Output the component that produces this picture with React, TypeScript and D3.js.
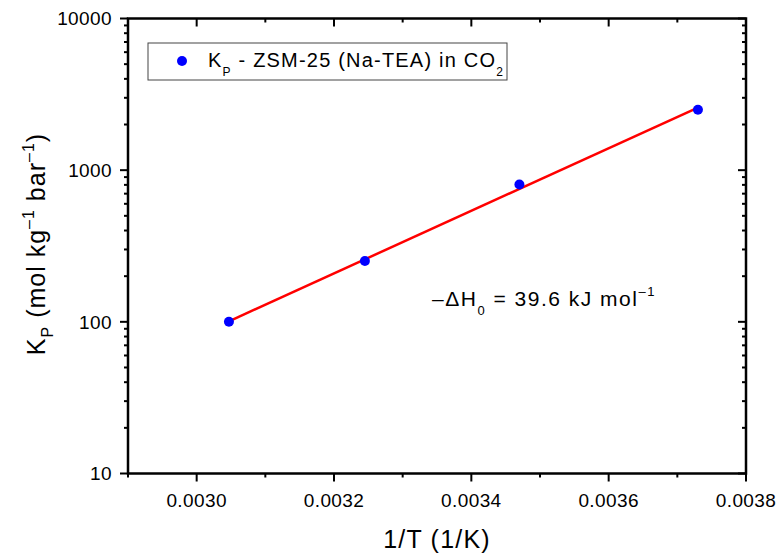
import React from "react";
import * as d3 from "d3";

const invT = [0.003047, 0.003245, 0.00347, 0.00373];
const kp = [100, 252, 805, 2500];
const xTicks = [0.003, 0.0032, 0.0034, 0.0036, 0.0038];
const xMinor = [0.0029, 0.0031, 0.0033, 0.0035, 0.0037];
const yTicks = [10, 100, 1000, 10000];
const legendLabel = "K";
const xTitle = "1/T (1/K)";

const W = 777, H = 560;
const M = { l: 128, r: 746, t: 18.5, b: 473.5 };

export default function App() {
  const x = d3.scaleLinear().domain([0.0029, 0.0038]).range([M.l, M.r]);
  const y = d3.scaleLog().domain([10, 10000]).range([M.b, M.t]);
  const font = "'Liberation Sans', Arial, sans-serif";

  // least-squares fit in log10 space
  const ly = kp.map((v) => Math.log10(v));
  const mx = d3.mean(invT)!, my = d3.mean(ly)!;
  let sxy = 0, sxx = 0;
  invT.forEach((v, i) => { sxy += (v - mx) * (ly[i] - my); sxx += (v - mx) ** 2; });
  const slope = sxy / sxx, icpt = my - slope * mx;
  const x0 = invT[0], x1 = invT[invT.length - 1];
  const fit = [[x0, 10 ** (icpt + slope * x0)], [x1, 10 ** (icpt + slope * x1)]];
  const line = d3.line<number[]>().x((d) => x(d[0])).y((d) => y(d[1]));

  const yMinor: number[] = [];
  for (let d = 10; d < 10000; d *= 10) for (let k = 2; k <= 9; k++) yMinor.push(d * k);

  return (
    <svg width={W} height={H} style={{ position: "absolute", left: 0, top: 0, background: "#fff" }} fontFamily={font} fill="#000">
      {/* y minor ticks */}
      {yMinor.map((v, i) => (
        <g key={"ym" + i}>
          <line x1={M.l - 4} x2={M.l} y1={y(v)} y2={y(v)} stroke="#000" strokeWidth={2} />
          <line x1={M.r} x2={M.r - 4} y1={y(v)} y2={y(v)} stroke="#000" strokeWidth={2} />
        </g>
      ))}
      {yTicks.map((v, i) => (
        <g key={"yt" + i}>
          <line x1={M.l - 8} x2={M.l} y1={y(v)} y2={y(v)} stroke="#000" strokeWidth={2} />
          <line x1={M.r} x2={M.r - 8} y1={y(v)} y2={y(v)} stroke="#000" strokeWidth={2} />
          <text x={M.l - 16} y={y(v)} dy="0.36em" textAnchor="end" fontSize={19} letterSpacing={0.4}>{v}</text>
        </g>
      ))}
      {xMinor.map((v, i) => (
        <g key={"xm" + i}>
          <line x1={x(v)} x2={x(v)} y1={M.b} y2={M.b + 4} stroke="#000" strokeWidth={2} />
          <line x1={x(v)} x2={x(v)} y1={M.t} y2={M.t + 4} stroke="#000" strokeWidth={2} />
        </g>
      ))}
      {xTicks.map((v, i) => (
        <g key={"xt" + i}>
          <line x1={x(v)} x2={x(v)} y1={M.b} y2={M.b + 8} stroke="#000" strokeWidth={2} />
          <line x1={x(v)} x2={x(v)} y1={M.t} y2={M.t + 8} stroke="#000" strokeWidth={2} />
          <text x={x(v)} y={507} textAnchor="middle" fontSize={19} letterSpacing={0.4}>{v.toFixed(4)}</text>
        </g>
      ))}
      <rect x={M.l} y={M.t} width={M.r - M.l} height={M.b - M.t} fill="none" stroke="#000" strokeWidth={2.5} />

      <path d={line(fit)!} stroke="#ff0000" strokeWidth={2.5} fill="none" />
      {invT.map((v, i) => (
        <circle key={"p" + i} cx={x(v)} cy={y(kp[i])} r={5} fill="#0000ff" />
      ))}

      {/* legend */}
      <rect x={148} y={43} width={359} height={37} fill="#fff" stroke="#444" strokeWidth={1} />
      <circle cx={182} cy={61} r={5} fill="#0000ff" />
      <text x={208} y={67} fontSize={20} letterSpacing={1.2}>
        {legendLabel}
        <tspan fontSize={12} dy={9}>P</tspan>
        <tspan dy={-9}> - ZSM-25 (Na-TEA) in CO</tspan>
        <tspan fontSize={12} dy={9}>2</tspan>
      </text>

      {/* annotation */}
      <text x={432} y={306} fontSize={21} letterSpacing={1.5}>
        –ΔH
        <tspan fontSize={13} dy={9}>0</tspan>
        <tspan dy={-9}> = 39.6 kJ mol</tspan>
        <tspan fontSize={13} dy={-10}>–1</tspan>
      </text>

      {/* axis titles */}
      <text x={(M.l + M.r) / 2} y={548} textAnchor="middle" fontSize={25} letterSpacing={1.2}>{xTitle}</text>
      <text transform={`translate(45, ${(M.t + M.b) / 2 - 2}) rotate(-90)`} textAnchor="middle" fontSize={25} letterSpacing={1}>
        K
        <tspan fontSize={16} dy={8}>P</tspan>
        <tspan dy={-8}> (mol kg</tspan>
        <tspan fontSize={16} dy={-11}>–1</tspan>
        <tspan dy={11}> bar</tspan>
        <tspan fontSize={16} dy={-11}>–1</tspan>
        <tspan dy={11}>)</tspan>
      </text>
    </svg>
  );
}
